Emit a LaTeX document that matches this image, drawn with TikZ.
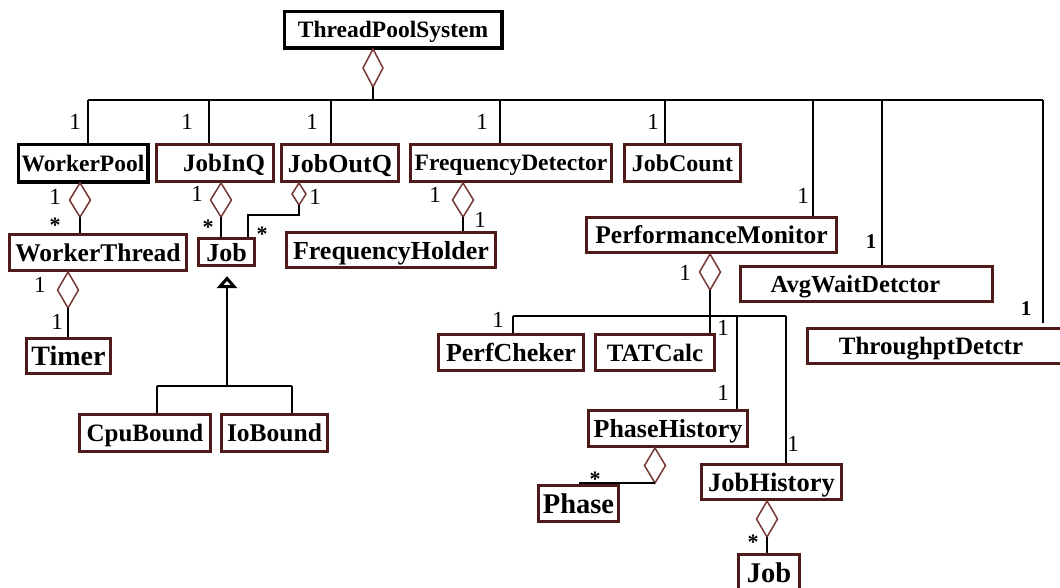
\documentclass[tikz,border=0pt]{standalone}
\usepackage{fontspec}
\setmainfont{Liberation Serif}
\usetikzlibrary{shapes.geometric,arrows.meta}
\definecolor{boxred}{RGB}{78,26,26}
\definecolor{diared}{RGB}{120,55,55}
\newcommand\umlbox[8][]{\node[box,#1,minimum width={(#4-#3)*1pt-2.5pt},minimum height={(#6-#5)*1pt-2.5pt},font=\bfseries\fontsize{#7}{#7}\selectfont] (#2) at ({(#3+#4)/2},{(#5+#6)/2}) {#8};}
\begin{document}
\begin{tikzpicture}[x=1pt,y=-1pt,
  box/.style={draw=boxred,line width=2.8pt,fill=white,inner sep=0pt,text depth=0pt},
  blackbox/.style={draw=black,line width=3.5pt},
  dia/.style={diamond,draw=diared,line width=1.5pt,fill=white,inner sep=0pt,outer sep=0pt,anchor=north},
  conn/.style={draw=black,line width=1.6pt},
  mult/.style={inner sep=0pt,font=\fontsize{23}{23}\selectfont},
  star/.style={inner sep=0pt,font=\bfseries\fontsize{22}{22}\selectfont},
  mb/.style={inner sep=0pt,font=\bfseries\fontsize{21}{21}\selectfont}]
\useasboundingbox (0,0) rectangle (1060,587);

% classes
\umlbox[blackbox]{tps}{283}{503}{10}{49}{23.5}{ThreadPoolSystem}
\umlbox[blackbox]{wp}{17}{149}{143}{183}{23.5}{WorkerPool}
\umlbox{jiq}{155}{275}{143}{183}{25}{\hspace*{18pt}JobInQ}
\umlbox{joq}{280}{400}{143}{183}{26}{JobOutQ}
\umlbox{fd}{409}{613}{143}{183}{23.5}{FrequencyDetector}
\umlbox{jc}{623}{742}{143}{183}{24}{JobCount}
\umlbox{wt}{8}{188}{233}{272}{25.5}{WorkerThread}
\umlbox{job1}{197}{256}{237}{267}{26}{Job}
\umlbox{fh}{285}{497}{231}{269}{26}{FrequencyHolder}
\umlbox{tmr}{25}{112}{337}{375}{28}{Timer}
\umlbox{cpu}{78}{212}{413}{453}{25}{CpuBound}
\umlbox{io}{220}{329}{413}{453}{25.5}{IoBound}
\umlbox{pm}{585}{838}{216}{254}{25.5}{PerformanceMonitor}
\umlbox{aw}{739}{994}{265}{303}{24.5}{AvgWaitDetctor\hspace*{22pt}}
\umlbox{tp}{806}{1068}{327}{365}{25}{ThroughptDetctr\hspace*{12pt}}
\umlbox{pc}{437}{585}{333}{372}{26}{PerfCheker}
\umlbox{tat}{594}{716}{333}{372}{25}{TATCalc}
\umlbox{ph}{587}{749}{409}{448}{26}{PhaseHistory}
\umlbox{jh}{700}{843}{463}{501}{26.5}{JobHistory}
\umlbox{phs}{537}{620}{484}{523}{28.5}{Phase}
\umlbox{job2}{737}{801}{553}{592}{28.5}{Job}

% top bus
\coordinate (b1) at (88,100);
\coordinate (b2) at (209,100);
\coordinate (b3) at (331,100);
\coordinate (b4) at (500,100);
\coordinate (b5) at (665,100);
\coordinate (b6) at (813,100);
\coordinate (b7) at (882,100);
\coordinate (b8) at (1043,100);
\draw[conn] (b1) -- (b8);
\draw[conn] (b1) -- (b1 |- wp.north);
\draw[conn] (b2) -- (b2 |- jiq.north);
\draw[conn] (b3) -- (b3 |- joq.north);
\draw[conn] (b4) -- (b4 |- fd.north);
\draw[conn] (b5) -- (b5 |- jc.north);
\draw[conn] (b6) -- (b6 |- pm.north);
\draw[conn] (b7) -- (b7 |- aw.north);
\draw[conn,shorten >=4pt] (b8) -- (b8 |- tp.north);

% diamonds
\node[dia,minimum width=20pt,minimum height=38pt] (d0) at (373,49) {};
\node[dia,minimum width=21pt,minimum height=34pt] (dwp) at (80,183) {};
\node[dia,minimum width=21pt,minimum height=34pt] (djiq) at (221,183) {};
\node[dia,minimum width=14pt,minimum height=22pt] (djoq) at (299,183) {};
\node[dia,minimum width=21pt,minimum height=34pt] (dfd) at (463,183) {};
\node[dia,minimum width=21pt,minimum height=36pt] (dwt) at (68,272) {};
\node[dia,minimum width=21pt,minimum height=36pt] (dpm) at (710,254) {};
\node[dia,minimum width=21pt,minimum height=35pt] (dph) at (655,448) {};
\node[dia,minimum width=21pt,minimum height=36pt] (djh) at (767,501) {};

\draw[conn] (d0.south) -- (d0.south |- b1);
\draw[conn] (dwp.south) -- (dwp.south |- wt.north);
\draw[conn] (djiq.south) -- (djiq.south |- job1.north);
\coordinate (jq) at (248,215);
\draw[conn] (djoq.south) |- (jq) -- (jq |- job1.north);
\draw[conn] (dfd.south) -- (dfd.south |- fh.north);
\draw[conn] (dwt.south) -- (dwt.south |- tmr.north);
\draw[conn] (dpm.south) -- (dpm.south |- tat.north);
\draw[conn] (dph.south) -- (dph.south -| phs.north);
\draw[conn] (djh.south) -- (djh.south |- job2.north);

% performance monitor sub-bus
\coordinate (p1) at (513,316);
\coordinate (p3) at (737,316);
\coordinate (p4) at (786,316);
\draw[conn] (p1) -- (p4);
\draw[conn] (p1) -- (p1 |- pc.north);
\draw[conn] (p3) -- (p3 |- ph.north);
\draw[conn] (p4) -- (p4 |- jh.north);

% inheritance
\coordinate (ih) at (227,386);
\coordinate (ihL) at (157,386);
\coordinate (ihR) at (292,386);
\draw[conn] (ihL) -- (ihR);
\draw[conn] (ihL) -- (ihL |- cpu.north);
\draw[conn] (ihR) -- (ihR |- io.north);
\draw[conn,-{Triangle[open,length=12pt,width=20pt,line width=3.2pt]},shorten >=9pt] (ih) -- (ih |- job1.south);

% multiplicities
\node[mult] (m1) at (75,122) {1};
\node[mult] (m2) at (187,122) {1};
\node[mult] (m3) at (312,122) {1};
\node[mult] (m4) at (482,122) {1};
\node[mult] (m5) at (653,122) {1};
\node[mult] (m6) at (803,196) {1};
\node[mult] (m7) at (55,197) {1};
\node[mult] (m8) at (197,194) {1};
\node[mult] (m9) at (315,197) {1};
\node[mult] (m10) at (435,195) {1};
\node[mult] (m11) at (480,220) {1};
\node[mult] (m12) at (40,285) {1};
\node[mult] (m13) at (57,322) {1};
\node[mult] (m14) at (685,273) {1};
\node[mult] (m15) at (498,320) {1};
\node[mult] (m16) at (723,328) {1};
\node[mult] (m17) at (723,393) {1};
\node[mult] (m18) at (793,444) {1};
\node[star] (s1) at (55,225) {*};
\node[star] (s2) at (208,227) {*};
\node[star] (s3) at (262,234) {*};
\node[star] (s4) at (595,479) {*};
\node[star] (s5) at (753,542) {*};
\node[mb] (lb1) at (871,242) {1};
\node[mb] (lb2) at (1026,309) {1};
\end{tikzpicture}
\end{document}
